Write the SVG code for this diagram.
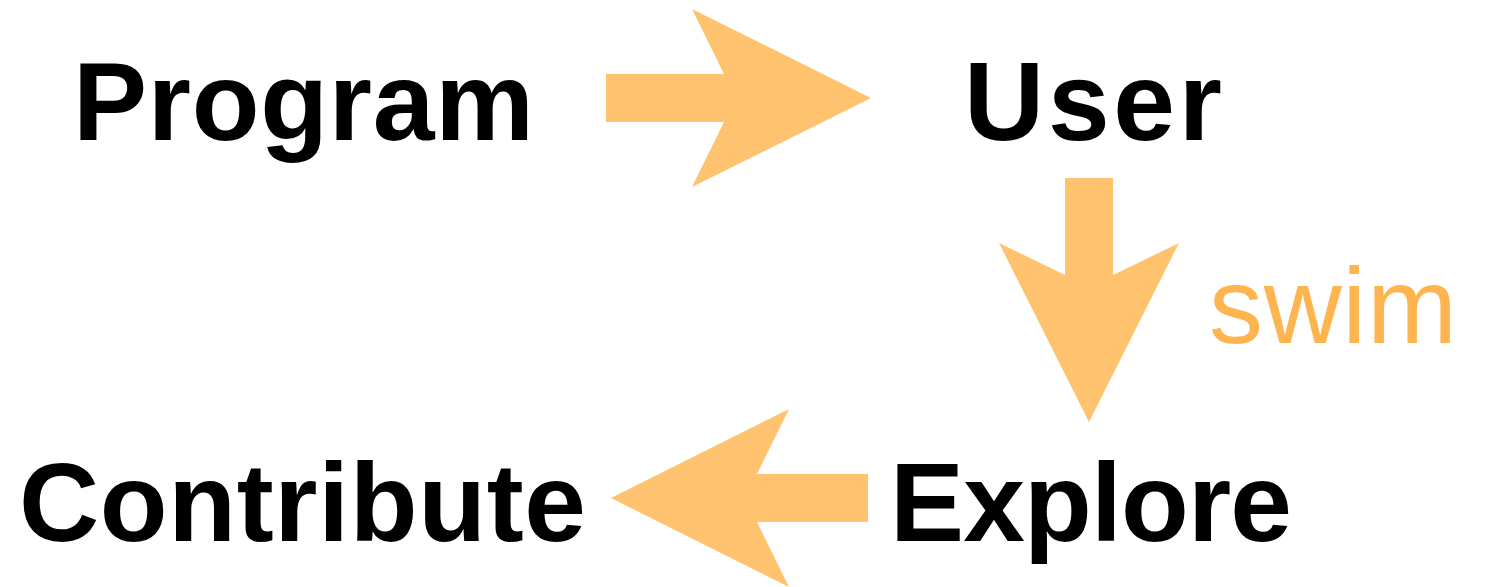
<svg xmlns="http://www.w3.org/2000/svg" width="1486" height="587" viewBox="0 0 1486 587">
<style>
.lbl{font-family:"Liberation Sans",Arial,Helvetica,sans-serif;font-weight:bold;font-size:111px;fill:#000}
.arrow{fill:#FFC26E}
.edge-label{font-family:"Liberation Sans",Arial,Helvetica,sans-serif;font-size:108px;fill:#FFB54F}
</style>
<rect width="1486" height="587" fill="#fff"/>
<g id="node-program"><text class="lbl" x="73" y="140" textLength="461" lengthAdjust="spacing">Program</text></g>
<g id="node-user"><text class="lbl" x="964" y="140" textLength="258" lengthAdjust="spacing">User</text></g>
<g id="node-explore"><text class="lbl" x="890" y="541" textLength="402" lengthAdjust="spacing">Explore</text></g>
<g id="node-contribute"><text class="lbl" x="19" y="541" textLength="567" lengthAdjust="spacing">Contribute</text></g>
<g id="connectors">
<polygon class="arrow" points="606,74 724,74 692,9 871,98 692,187 724,122 606,122"/>
<polygon class="arrow" points="1065,178 1113,178 1113,275 1179,243 1089,422 999,243 1065,275"/>
<polygon class="arrow" points="868,474 757,474 789,409 611,498 789,587 757,522 868,522"/>
<text class="edge-label" x="1209" y="343" textLength="248" lengthAdjust="spacing">swim</text>
</g>
</svg>
